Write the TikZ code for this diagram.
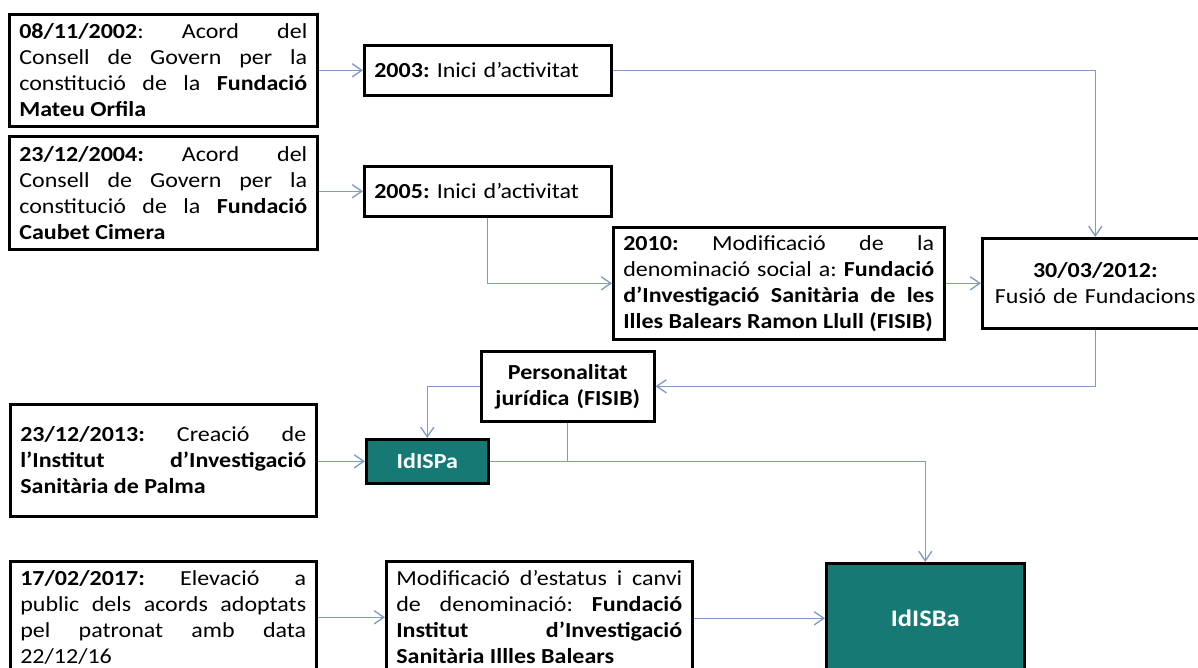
\documentclass[tikz,border=0pt]{standalone}
\usepackage{fontspec}
\setmainfont{Carlito}[FakeStretch=1.12]
\usetikzlibrary{arrows.meta}
\definecolor{liniablava}{RGB}{125,155,198}
\definecolor{verdIdIS}{RGB}{22,121,115}
\tikzset{
  caixa/.style={draw,line width=1.5pt,anchor=north west,inner xsep=0.2cm,inner ysep=0pt,align=justify,font=\fontsize{12.2}{14.8}\selectfont},
  caixaverda/.style={caixa,fill=verdIdIS,text=white,align=center,font=\fontsize{12.2}{14.8}\selectfont\bfseries},
  fletxa/.style={draw=liniablava,line width=0.75pt,-{Straight Barb[length=5.5pt,width=7.5pt]}},
  linia/.style={draw=liniablava,line width=0.75pt}
}
\hbadness=10000
\frenchspacing

\begin{document}
\begin{tikzpicture}[x=0.02cm,y=-0.02cm]
  \useasboundingbox (0,0) rectangle (1198,668);
  \node[caixa,text width=5.76cm,minimum height=2.24cm] (orfila) at (8,13) {\textbf{08/11/2002}: Acord del\linebreak Consell de Govern per la\linebreak constitució de la \textbf{Fundació}\linebreak \textbf{Mateu Orfila}};
  \node[caixa,text width=5.76cm,minimum height=2.26cm] (caubet) at (8,135) {\textbf{23/12/2004:} Acord del\linebreak Consell de Govern per la\linebreak constitució de la \textbf{Fundació}\linebreak \textbf{Caubet Cimera}};
  \node[caixa,align=left,text width=4.54cm,minimum height=1cm] (i2003) at (363,44) {\textbf{2003:} Inici d’activitat};
  \node[caixa,align=left,text width=4.54cm,minimum height=1cm] (i2005) at (363,165) {\textbf{2005:} Inici d’activitat};
  \node[caixa,text width=6.22cm,minimum height=2.24cm] (fisib) at (612,226) {\textbf{2010:} Modificació de la\linebreak denominació social a: \textbf{Fundació}\linebreak \textbf{d’Investigació Sanitària de les}\linebreak \textbf{Illes Balears Ramon Llull (FISIB)}};
  \node[caixa,align=center,text width=4.12cm,minimum height=1.8cm] (fusio) at (981,237) {\textbf{30/03/2012:}\\Fusió de Fundacions};
  \node[caixa,align=center,text width=3.06cm,minimum height=1.4cm] (pers) at (480,350) {\textbf{Personalitat}\\\textbf{jurídica (FISIB)}};
  \node[caixaverda,text width=2.04cm,minimum height=0.88cm] (idispa) at (365,438) {IdISPa};
  \node[caixa,text width=5.72cm,minimum height=2.24cm] (palma) at (9,403) {\textbf{23/12/2013:} Creació de\linebreak \textbf{l’Institut d’Investigació}\linebreak \textbf{Sanitària de Palma}};
  \node[caixa,text width=5.72cm,minimum height=2.24cm] (elevacio) at (9,560) {\textbf{17/02/2017:} Elevació a\linebreak public dels acords adoptats\linebreak pel patronat amb data\linebreak 22/12/16};
  \node[caixa,text width=5.72cm,minimum height=2.24cm] (estatus) at (385,560) {Modificació d’estatus i canvi\linebreak de denominació: \textbf{Fundació}\linebreak \textbf{Institut d’Investigació}\linebreak \textbf{Sanitària Illles Balears}};
  \node[caixaverda,text width=3.56cm,minimum height=2.2cm,font=\fontsize{13.5}{15}\selectfont\bfseries] (idisba) at (825,562) {IdISBa};

  \draw[fletxa] (orfila.east |- i2003.west) -- (i2003.west);
  \draw[fletxa] (i2003.east) -| (fusio.north);
  \draw[fletxa] (caubet.east |- i2005.west) -- (i2005.west);
  \draw[fletxa] (i2005.south) |- (fisib.west);
  \draw[fletxa] (fisib.east) -- (fisib.east -| fusio.west);
  \draw[fletxa] (fusio.south) |- (pers.east);
  \draw[fletxa] (pers.west) -| (idispa.north);
  \draw[fletxa] (palma.east |- idispa.west) -- (idispa.west);
  \draw[fletxa] (idispa.east) -| (idisba.north);
  \draw[linia] (pers.south) -- (pers.south |- idispa.east);
  \draw[fletxa] (elevacio.east |- estatus.west) -- (estatus.west);
  \draw[fletxa] (estatus.east |- idisba.west) -- (idisba.west);
\end{tikzpicture}
\end{document}
